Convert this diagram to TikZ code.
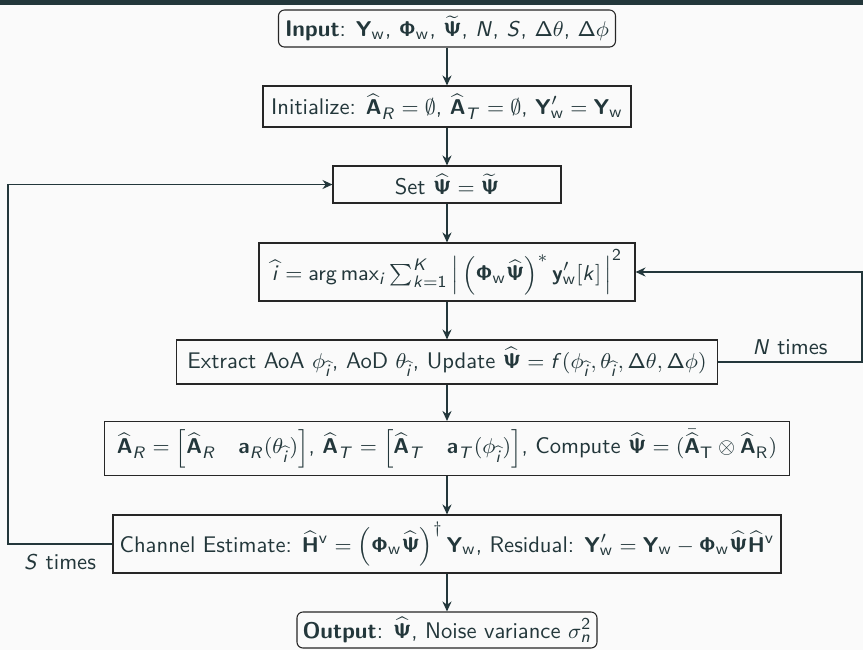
\documentclass[tikz,border=0pt]{standalone}
\usepackage{amsmath}
\usetikzlibrary{arrows.meta}
\makeatletter
\DeclareSymbolFont{sfoperators}{OT1}{cmss}{m}{n}
\SetSymbolFont{sfoperators}{bold}{OT1}{cmss}{bx}{n}
\DeclareSymbolFont{sfletters}{OT1}{cmss}{m}{sl}
\DeclareSymbolFontAlphabet{\mathrm}{sfoperators}
\DeclareMathAlphabet{\mathbf}{OT1}{cmss}{bx}{n}
\count@=`A
\loop
 \mathcode\count@=\numexpr "7000+\symsfletters*"100+\count@\relax
 \advance\count@ 1
\ifnum\count@<`[ \repeat
\count@=`a
\loop
 \mathcode\count@=\numexpr "7000+\symsfletters*"100+\count@\relax
 \advance\count@ 1
\ifnum\count@<`\{ \repeat
\count@=`0
\loop
 \mathcode\count@=\numexpr "7000+\symsfoperators*"100+\count@\relax
 \advance\count@ 1
\ifnum\count@<`: \repeat
\DeclareMathSymbol{\Delta}{\mathalpha}{sfoperators}{"01}
\DeclareMathSymbol{\Phi}{\mathalpha}{sfoperators}{"08}
\DeclareMathSymbol{\Psi}{\mathalpha}{sfoperators}{"09}
\renewcommand{\operator@font}{\mathgroup\symsfoperators}
\makeatother
\definecolor{mDark}{HTML}{23373B}
\definecolor{mBg}{HTML}{FAFAFA}
\def\pxu{0.4204pt}
\begin{document}
\begin{tikzpicture}[x=0.4204pt,y=-0.4204pt,
  txt/.style={text=mDark, font=\sffamily\fontsize{9.5}{11.5}\selectfont},
  box/.style={txt, draw=black!85, line width=0.45pt, fill=mBg, inner sep=0.5pt},
  rbox/.style={box, rounded corners=2.5pt},
  arr/.style={draw=mDark, line width=0.8pt, -{Stealth[length=4.2pt,width=3.8pt]}}]
\fill[mBg] (0,0) rectangle (863,650);
\fill[mDark] (0,0) rectangle (863,5);
\useasboundingbox (0,0) rectangle (863,650);

\node[rbox, minimum width=337*\pxu, minimum height=37*\pxu] (in) at (447,28.5)
  {\textbf{Input}: $\mathbf{Y}_\mathrm{w}$, $\mathbf{\Phi}_\mathrm{w}$, $\widetilde{\mathbf{\Psi}}$, $N$, $S$, $\Delta\theta$, $\Delta\phi$};
\node[box, minimum width=368*\pxu, minimum height=41*\pxu] (init) at (447,106.5)
  {Initialize: $\widehat{\mathbf{A}}_R=\emptyset$, $\widehat{\mathbf{A}}_T=\emptyset$, $\mathbf{Y}'_\mathrm{w}=\mathbf{Y}_\mathrm{w}$};
\node[box, minimum width=228*\pxu, minimum height=37*\pxu] (set) at (447,184.5)
  {Set $\widehat{\mathbf{\Psi}}=\widetilde{\mathbf{\Psi}}$};
\node[box, minimum width=376*\pxu, minimum height=58*\pxu] (arg) at (447,272)
  {$\widehat{i}=\arg\max_i\sum_{k=1}^K\left|\,\left(\mathbf{\Phi}_\mathrm{w}\widehat{\mathbf{\Psi}}\right)^*\mathbf{y}'_\mathrm{w}[k]\,\right|^2$};
\node[box, minimum width=541*\pxu, minimum height=44*\pxu] (ext) at (447,362)
  {Extract AoA $\phi_{\widehat{i}}$, AoD $\theta_{\widehat{i}}$, Update $\widehat{\mathbf{\Psi}}=f(\phi_{\widehat{i}},\theta_{\widehat{i}},\Delta\theta,\Delta\phi)$};
\node[box, minimum width=685*\pxu, minimum height=54*\pxu] (comp) at (447,448.5)
  {$\widehat{\mathbf{A}}_R=\left[\widehat{\mathbf{A}}_R\quad\mathbf{a}_R(\theta_{\widehat{i}})\right]$, $\widehat{\mathbf{A}}_T=\left[\widehat{\mathbf{A}}_T\quad\mathbf{a}_T(\phi_{\widehat{i}})\right]$, Compute $\widehat{\mathbf{\Psi}}=(\bar{\widehat{\mathbf{A}}}_\mathrm{T}\otimes\widehat{\mathbf{A}}_\mathrm{R})$};
\node[box, minimum width=668*\pxu, minimum height=58*\pxu] (ch) at (447,544)
  {Channel Estimate: $\widehat{\mathbf{H}}^\mathrm{v}=\left(\mathbf{\Phi}_\mathrm{w}\widehat{\mathbf{\Psi}}\right)^\dagger\mathbf{Y}_\mathrm{w}$, Residual: $\mathbf{Y}'_\mathrm{w}=\mathbf{Y}_\mathrm{w}-\mathbf{\Phi}_\mathrm{w}\widehat{\mathbf{\Psi}}\widehat{\mathbf{H}}^\mathrm{v}$};
\node[rbox, minimum width=300*\pxu, minimum height=36*\pxu] (out) at (447,630)
  {\textbf{Output}: $\widehat{\mathbf{\Psi}}$, Noise variance $\sigma_n^2$};

\draw[arr] (in) -- (init);
\draw[arr] (init) -- (set);
\draw[arr] (set) -- (arg);
\draw[arr] (arg) -- (ext);
\draw[arr] (ext) -- (comp);
\draw[arr] (comp) -- (ch);
\draw[arr] (ch) -- (out);

\coordinate (rx) at (862,0);
\coordinate (lx) at (8,0);
\draw[arr] (ext.east) -- (ext.east -| rx) -- (arg.east -| rx) -- (arg.east);
\draw[arr] (ch.west) -- (ch.west -| lx) -- (set.west -| lx) -- (set.west);
\node[txt] (nt) at (790,347) {$N$ times};
\node[txt] (st) at (60,562) {$S$ times};
\end{tikzpicture}
\end{document}
